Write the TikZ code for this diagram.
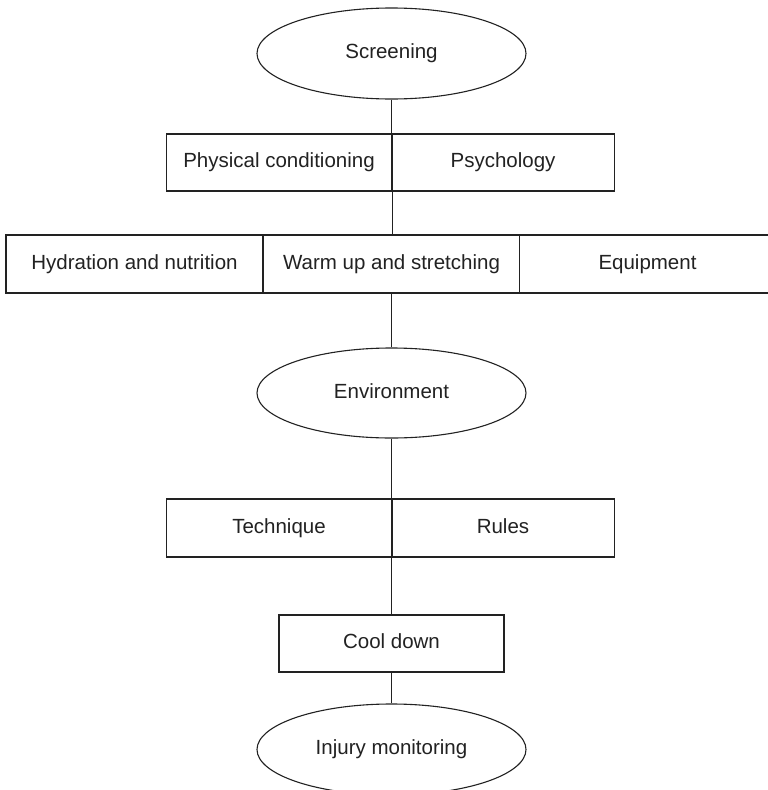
\documentclass[tikz,border=0pt]{standalone}
\usepackage{fontspec}
\setmainfont{Liberation Sans}
\usetikzlibrary{shapes.geometric}
\definecolor{ink}{HTML}{222222}
\tikzset{
  base/.style={draw=ink, line width=1.1pt, text=ink, inner sep=0pt,
    text height=14.8pt, text depth=4.3pt,
    font=\fontsize{20.5}{24}\selectfont},
  oval/.style={base, ellipse, minimum width=269pt, minimum height=91pt},
  boxx/.style={base, rectangle, minimum height=57pt},
  link/.style={draw=ink, line width=1.1pt}
}
\begin{document}
\begin{tikzpicture}[x=1pt,y=-1pt]
\useasboundingbox (0,0) rectangle (768,790);
\clip (0,0) rectangle (768,790);
\fill[white] (0,0) rectangle (768,790);
\node[oval] (scr) at (391.5,53.5) {Screening};
\node[boxx, minimum width=225pt] (phys) at (279,162.5) {Physical conditioning};
\node[boxx, minimum width=223pt] (psy) at (503,162.5) {Psychology};
\node[boxx, minimum width=257pt, minimum height=58pt] (hyd) at (134.5,264) {Hydration and nutrition};
\node[boxx, minimum width=256pt, minimum height=58pt] (warm) at (391.5,264) {Warm up and stretching};
\node[boxx, minimum width=256pt, minimum height=58pt] (equip) at (647.5,264) {Equipment};
\node[oval, minimum height=90pt] (env) at (391.5,393) {Environment};
\node[boxx, minimum width=225pt, minimum height=58pt] (tech) at (279,528) {Technique};
\node[boxx, minimum width=223pt, minimum height=58pt] (rules) at (503,528) {Rules};
\node[boxx, minimum width=225pt] (cool) at (391.5,643.5) {Cool down};
\node[oval] (inj) at (391.5,749.5) {Injury monitoring};
\draw[link] (scr.south) -- (scr.south |- phys.north);
\draw[link] (phys.north east) -- (phys.south east);
\draw[link] (phys.south east) -- (phys.south east |- warm.north);
\draw[link] (env.north |- warm.south) -- (env.north);
\draw[link] (env.south) -- (env.south |- tech.north);
\draw[link] (tech.north east) -- (tech.south east);
\draw[link] (cool.north |- tech.south) -- (cool.north);
\draw[link] (cool.south) -- (inj.north);
\end{tikzpicture}
\end{document}
